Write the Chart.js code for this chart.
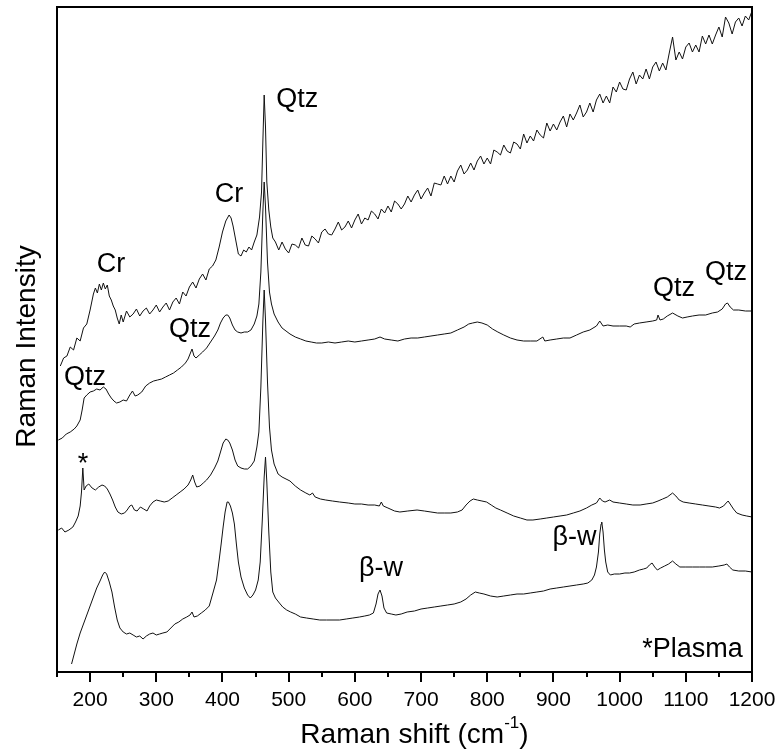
<!DOCTYPE html>
<html>
<head>
<meta charset="utf-8">
<script src="https://cdn.jsdelivr.net/npm/chart.js@4/dist/chart.umd.min.js"></script>
<style>
  body { margin: 0; background: #fff; }
</style>
</head>
<body>
<canvas id="chart" width="779" height="751"></canvas>
<script>
// Raman spectra, offset-stacked, arbitrary intensity units

// top spectrum (strong fluorescence background)
let shiftTop = [
  155,160,165,170,175,180,185,190,195,200,205,208,211,214,217,220,223,226,229,232,235,238,241,244,247,250,
  255,260,265,270,275,280,285,290,295,300,305,310,315,320,325,330,335,340,345,350,355,360,365,370,375,380,385,390,395,400,405,410,
  413,416,420,424,428,432,436,440,444,448,452,456,459,461,463,465,467,470,473,476,
  480,485,490,495,500,505,510,515,520,525,
  530,535,540,545,550,555,560,565,570,575,
  580,585,590,595,600,605,610,615,620,625,
  630,635,640,645,650,655,660,665,670,675,
  680,685,690,695,700,705,710,715,720,725,
  730,735,740,745,750,755,760,765,770,775,
  780,785,790,795,800,805,810,815,820,825,
  830,835,840,845,850,855,860,865,870,875,
  880,885,890,895,900,905,910,915,920,925,
  930,935,940,945,950,955,960,965,970,975,
  980,985,990,995,1000,1005,1010,1015,1020,1025,
  1030,1035,1040,1045,1050,1055,1060,1065,1070,1075,
  1080,1085,1090,1095,1100,1105,1110,1115,1120,1125,
  1130,1135,1140,1145,1150,1155,1160,1165,1170,1175,
  1180,1185,1190,1195,1200
];
let intTop = [
  306,314,316,325,322,334,331,344,348,362,378,384,379,388,382,389,383,387,376,372,366,362,354,348,357,350,
  361,355,358,363,356,361,364,358,362,367,360,365,369,362,370,374,368,380,376,385,390,384,393,398,392,403,406,412,425,440,451,457,
  454,446,432,418,416,422,420,425,422,430,437,455,480,530,577,545,490,462,445,434,
  430,422,430,423,419,428,427,424,434,427,
  426,436,433,429,440,443,438,437,443,450,
  442,445,451,444,452,458,448,454,452,461,
  458,453,463,459,466,460,471,468,463,468,
  476,470,477,482,473,479,484,476,489,488,
  487,496,488,496,490,501,507,498,502,509,
  502,511,516,508,514,508,522,520,517,527,
  521,519,530,528,523,538,529,536,531,542,
  537,534,549,541,548,542,550,556,545,558,
  552,559,567,555,560,569,560,572,578,569,
  576,569,585,580,590,583,582,593,600,588,
  597,593,603,593,605,610,601,609,602,619,
  635,612,620,613,625,629,620,627,620,636,
  628,637,628,637,645,635,655,649,638,650,
  654,646,656,652,661
];

// second spectrum
let shiftUpper = [
  152,158,164,170,176,180,185,188,191,195,
  200,205,210,215,220,224,228,232,236,240,
  245,250,255,260,264,268,272,278,284,290,
  296,302,308,314,320,326,332,338,344,348,
  351,354,357,360,365,370,376,382,388,393,
  397,401,405,408,411,415,419,423,428,433,
  438,443,448,452,455,458,461,463,465,468,
  471,474,478,484,490,496,502,510,518,526,
  534,542,550,560,570,580,590,600,610,620,
  630,638,645,655,665,675,685,695,705,715,
  725,735,745,755,765,772,778,785,792,800,
  808,816,825,835,845,855,865,875,884,887,
  895,905,915,925,935,945,955,965,970,975,
  982,990,1000,1010,1016,1022,1030,1040,1050,1056,
  1058,1061,1066,1072,1080,1088,1095,1102,1110,1120,
  1130,1140,1148,1155,1160,1163,1167,1172,1180,1190,
  1200
];
let intUpper = [
  232,234,238,240,243,246,252,262,274,277,
  280,281,283,282,285,283,278,274,271,269,
  270,272,271,277,281,276,277,280,286,289,
  291,292,293,295,297,299,302,305,309,313,
  318,323,316,314,317,320,324,330,336,342,
  349,354,357,357,354,347,342,340,339,340,
  340,342,348,356,368,400,460,490,465,410,
  380,368,358,350,344,341,338,335,333,331,
  330,329,329,330,329,330,331,330,331,332,
  333,335,333,332,331,333,334,334,335,336,
  337,338,339,342,345,348,349,350,349,347,
  343,340,337,334,332,331,331,331,335,331,
  332,333,334,334,337,340,342,346,351,346,
  347,346,346,346,345,348,349,350,351,352,
  357,352,353,356,359,356,354,355,356,357,
  357,359,360,363,368,369,365,362,362,361,
  361
];

// third spectrum (plasma line near 189)
let shiftLower = [
  152,157,162,168,174,178,182,185,187,189,
  191,194,198,203,208,213,218,222,226,230,
  234,238,242,247,252,256,260,263,267,271,
  276,281,286,290,295,300,306,312,318,324,
  330,336,342,348,352,355,358,361,366,371,
  376,382,388,393,397,401,405,408,411,415,
  419,423,428,433,438,443,448,452,455,458,
  461,463,465,468,471,474,478,484,490,496,
  502,510,518,526,532,536,540,548,556,566,
  577,590,600,610,620,630,637,640,643,650,
  660,668,680,694,705,715,725,735,745,755,
  762,768,774,779,785,792,799,806,813,820,
  830,840,850,860,869,880,890,900,910,920,
  930,940,950,958,965,970,974,978,985,990,
  1000,1010,1020,1031,1040,1050,1058,1065,1072,1080,
  1085,1090,1096,1105,1115,1125,1135,1145,1151,1157,
  1161,1164,1168,1172,1177,1185,1192,1200
];
let intLower = [
  142,144,140,142,145,150,156,166,180,204,
  182,186,188,184,182,185,187,186,183,178,
  172,165,160,158,159,162,166,167,162,161,
  165,163,161,166,170,172,171,170,171,174,
  177,180,183,187,192,197,190,185,186,189,
  192,197,204,211,220,229,233,232,229,222,
  212,206,204,203,203,206,211,225,240,285,
  350,382,352,290,245,222,208,198,195,193,
  191,186,182,179,177,179,175,173,172,171,
  170,169,168,168,167,167,166,170,166,164,
  161,160,161,162,161,160,159,159,159,160,
  162,167,171,173,172,171,170,167,164,162,
  159,156,154,152,152,153,154,155,156,157,
  159,161,164,167,169,174,171,170,172,170,
  169,168,167,167,168,169,171,173,175,179,
  176,172,170,169,168,167,166,165,164,166,
  169,171,167,163,159,157,156,155
];

// bottom spectrum (beta-W bands)
let shiftBottom = [
  172,176,180,185,190,195,200,205,210,215,
  219,222,225,229,233,237,241,245,250,255,
  260,265,270,275,280,285,290,295,300,305,
  310,316,322,328,334,340,346,351,354,357,
  362,368,374,380,386,391,395,398,401,404,
  407,409,412,415,418,421,424,428,433,438,
  442,446,450,454,457,460,463,465,467,470,
  473,476,480,486,491,497,503,510,518,527,
  537,547,557,567,577,587,597,607,615,622,
  628,632,635,638,641,644,648,655,662,670,
  679,690,700,710,720,730,740,750,760,768,
  775,782,788,795,805,815,825,835,845,855,
  865,875,885,895,905,915,925,935,945,952,
  958,962,965,968,970,972,973,975,977,979,
  982,986,992,1000,1008,1015,1022,1030,1036,1041,
  1045,1049,1053,1057,1062,1068,1074,1080,1085,1091,
  1100,1110,1121,1130,1140,1150,1158,1162,1166,1171,
  1180,1190,1200
];
let intBottom = [
  8,18,28,39,48,57,66,75,84,91,
  97,100,98,90,80,65,52,44,40,38,
  39,37,35,36,33,36,38,39,37,38,
  39,40,44,48,50,53,55,57,60,55,
  56,59,62,66,80,92,112,128,145,160,
  170,170,166,159,148,128,110,95,84,77,
  74,77,82,92,110,150,195,215,190,140,
  100,80,74,69,65,62,60,58,55,54,
  53,52,52,52,52,53,54,55,56,57,
  59,68,78,82,76,64,59,58,57,58,
  60,61,63,64,65,66,67,68,70,73,
  77,80,79,78,76,75,76,77,78,78,
  79,80,81,83,84,85,86,87,88,89,
  92,97,105,120,138,148,150,140,122,110,
  100,97,98,98,99,99,100,102,103,104,
  107,109,105,102,104,106,108,111,108,105,
  105,105,105,105,105,106,107,108,105,102,
  101,101,100
];

// peak labels
let peakText  = ["Qtz", "Cr", "Cr", "Qtz", "Qtz", "*", "β-w", "β-w", "Qtz", "Qtz", "*Plasma"];
let peakShift = [513, 231.6, 409.8, 351, 192.3, 189.3, 639.4, 931.7, 1082, 1160.6, 1110];
let peakLevel = [565, 400, 470, 335, 287, 200, 96, 127, 376, 392, 15];

const FONT = '"Liberation Sans", Arial, sans-serif';

function points(xs, ys) {
    return xs.map((x, i) => ({ x: x, y: ys[i] }));
}

function spectrum(label, xs, ys) {
    return {
        label: label,
        data: points(xs, ys),
        borderColor: "#111",
        borderWidth: 1,
        pointRadius: 0,
        tension: 0,
        fill: false
    };
}

const frame = {
    id: "frame",
    afterDraw(chart) {
        let ctx = chart.ctx;
        let a = chart.chartArea;
        let xs = chart.scales.x;
        let ys = chart.scales.y;
        ctx.save();
        ctx.strokeStyle = "#000";
        ctx.lineWidth = 2;
        ctx.strokeRect(a.left, a.top, a.right - a.left, a.bottom - a.top);

        // major / minor tick marks
        xs.ticks.forEach(t => {
            let px = Math.round(xs.getPixelForValue(t.value));
            let len = t.value % 100 === 0 ? 10 : 5;
            ctx.beginPath();
            ctx.moveTo(px, a.bottom);
            ctx.lineTo(px, a.bottom + len);
            ctx.stroke();
        });

        ctx.fillStyle = "#000";

        // x title with superscript
        let title = "28px " + FONT;
        let small = "17px " + FONT;
        ctx.font = title;
        let w1 = ctx.measureText("Raman shift (cm").width;
        let w3 = ctx.measureText(")").width;
        ctx.font = small;
        let w2 = ctx.measureText("-1").width;
        let sx = (a.left + a.right) / 2 + 10 - (w1 + w2 + w3) / 2;
        let base = 743;
        ctx.textAlign = "left";
        ctx.textBaseline = "alphabetic";
        ctx.font = title;
        ctx.fillText("Raman shift (cm", sx, base);
        ctx.font = small;
        ctx.fillText("-1", sx + w1, base - 15);
        ctx.font = title;
        ctx.fillText(")", sx + w1 + w2, base);

        // y title
        ctx.save();
        ctx.translate(35, (a.top + a.bottom) / 2 + 7);
        ctx.rotate(-Math.PI / 2);
        ctx.textAlign = "center";
        ctx.fillText("Raman Intensity", 0, 0);
        ctx.restore();

        // peak labels
        ctx.font = "27px " + FONT;
        ctx.textAlign = "center";
        peakText.forEach((txt, i) => {
            ctx.fillText(txt, xs.getPixelForValue(peakShift[i]), ys.getPixelForValue(peakLevel[i]));
        });
        ctx.restore();
    }
};

let chart = new Chart(document.getElementById("chart").getContext("2d"), {
    type: "line",
    data: {
        datasets: [
            spectrum("top", shiftTop, intTop),
            spectrum("upper", shiftUpper, intUpper),
            spectrum("lower", shiftLower, intLower),
            spectrum("bottom", shiftBottom, intBottom)
        ]
    },
    options: {
        responsive: false,
        animation: false,
        devicePixelRatio: 1,
        layout: { padding: { left: 57, right: 27, top: 7, bottom: 0 } },
        plugins: {
            legend: { display: false },
            tooltip: { enabled: false }
        },
        scales: {
            x: {
                type: "linear",
                min: 150,
                max: 1200,
                grid: { display: false, drawTicks: false },
                border: { display: false },
                ticks: {
                    stepSize: 50,
                    autoSkip: false,
                    maxRotation: 0,
                    padding: 16,
                    color: "#000",
                    font: { size: 21, family: FONT },
                    callback: v => (v % 100 === 0 ? v : "")
                },
                afterFit: s => {
                    s.height = 79;
                    s.paddingLeft = 0;
                    s.paddingRight = 0;
                }
            },
            y: {
                display: false,
                min: 0,
                max: 665
            }
        }
    },
    plugins: [frame]
});
</script>
</body>
</html>
